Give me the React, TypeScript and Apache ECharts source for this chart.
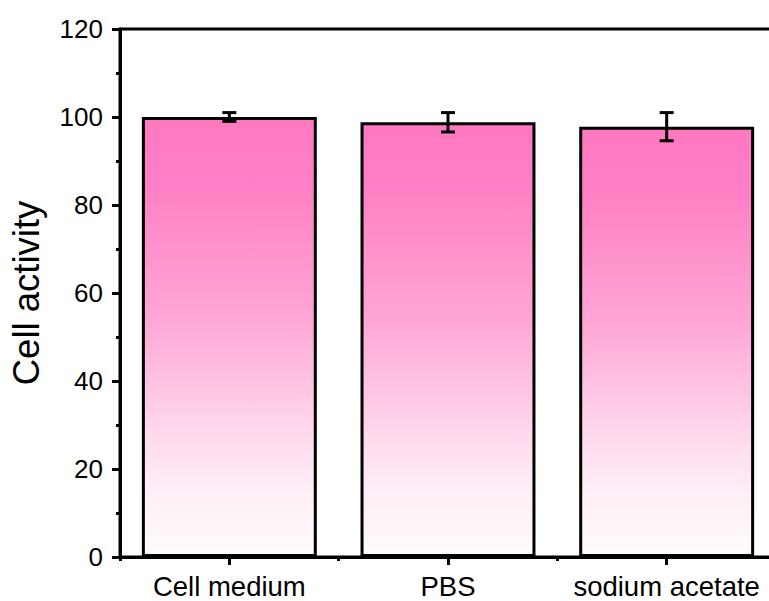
import React, { useEffect, useRef } from "react";
import * as echarts from "echarts";

const categories = ["Cell medium", "PBS", "sodium acetate"];
const values = [100, 98.8, 97.8];
const errors = [1.0, 2.2, 3.2];
const yTicks = [0, 20, 40, 60, 80, 100, 120];

const FONT = "'Liberation Sans', Arial, sans-serif";

export default function App() {
  const ref = useRef<HTMLDivElement>(null);
  useEffect(() => {
    if (!ref.current) return;
    const chart = echarts.init(ref.current, undefined, { renderer: "svg" });
    const errData = categories.map((c, i) => [i, values[i] - errors[i], values[i] + errors[i]]);
    chart.setOption({
      animation: false,
      backgroundColor: "#ffffff",
      grid: {
        left: 119,
        right: 14,
        top: 29,
        bottom: 44,
        show: true,
        borderColor: "#000",
        borderWidth: 3,
        backgroundColor: "transparent",
      },
      xAxis: [
        {
          type: "category",
          data: categories,
          axisLine: { show: true, lineStyle: { color: "#000", width: 3 } },
          axisTick: { show: true, alignWithLabel: true, length: 8, lineStyle: { color: "#000", width: 3 } },
          axisLabel: { color: "#000", fontSize: 27.5, fontFamily: FONT, margin: 15, interval: 0 },
          splitLine: { show: false },
        },
        {
          type: "value",
          position: "bottom",
          min: 0,
          max: 3,
          interval: 1,
          axisLine: { show: false },
          axisTick: { show: true, length: 4, lineStyle: { color: "#000", width: 3 } },
          axisLabel: { show: false },
          splitLine: { show: false },
        },
      ],
      yAxis: {
        type: "value",
        min: yTicks[0],
        max: yTicks[yTicks.length - 1],
        interval: 20,
        name: "Cell activity",
        nameLocation: "middle",
        nameGap: 75,
        nameTextStyle: { color: "#000", fontSize: 36.5, fontFamily: FONT },
        axisLine: { show: true, lineStyle: { color: "#000", width: 3 } },
        axisTick: { show: true, length: 8, lineStyle: { color: "#000", width: 3 } },
        minorTick: { show: true, splitNumber: 2, length: 4, lineStyle: { color: "#000", width: 3 } },
        axisLabel: { color: "#000", fontSize: 26, fontFamily: FONT, margin: 17 },
        splitLine: { show: false },
        minorSplitLine: { show: false },
      },
      series: [
        {
          type: "bar",
          data: values,
          barWidth: "80%",
          itemStyle: {
            borderColor: "#000",
            borderWidth: 3,
            color: new echarts.graphic.LinearGradient(0, 0, 0, 1, [
              { offset: 0, color: "#ff78c0" },
              { offset: 0.15, color: "#ff80c4" },
              { offset: 0.45, color: "#ffa5d5" },
              { offset: 0.7, color: "#ffd5eb" },
              { offset: 0.85, color: "#ffeef7" },
              { offset: 1, color: "#fffbfd" },
            ]),
          },
          z: 2,
        },
        {
          type: "custom",
          data: errData,
          z: 5,
          renderItem: (params: any, api: any) => {
            const x = api.value(0);
            const lo = api.coord([x, api.value(1)]);
            const hi = api.coord([x, api.value(2)]);
            const cap = 7;
            const style = { stroke: "#000", lineWidth: 3 };
            return {
              type: "group",
              children: [
                { type: "line", shape: { x1: lo[0], y1: lo[1], x2: hi[0], y2: hi[1] }, style },
                { type: "line", shape: { x1: lo[0] - cap, y1: lo[1], x2: lo[0] + cap, y2: lo[1] }, style },
                { type: "line", shape: { x1: hi[0] - cap, y1: hi[1], x2: hi[0] + cap, y2: hi[1] }, style },
              ],
            };
          },
        },
      ],
    });
    return () => chart.dispose();
  }, []);
  return (
    <div style={{ position: "absolute", left: 0, top: 0, width: 769, height: 601, overflow: "hidden" }}>
      <div ref={ref} style={{ width: 790, height: 601 }} />
    </div>
  );
}
